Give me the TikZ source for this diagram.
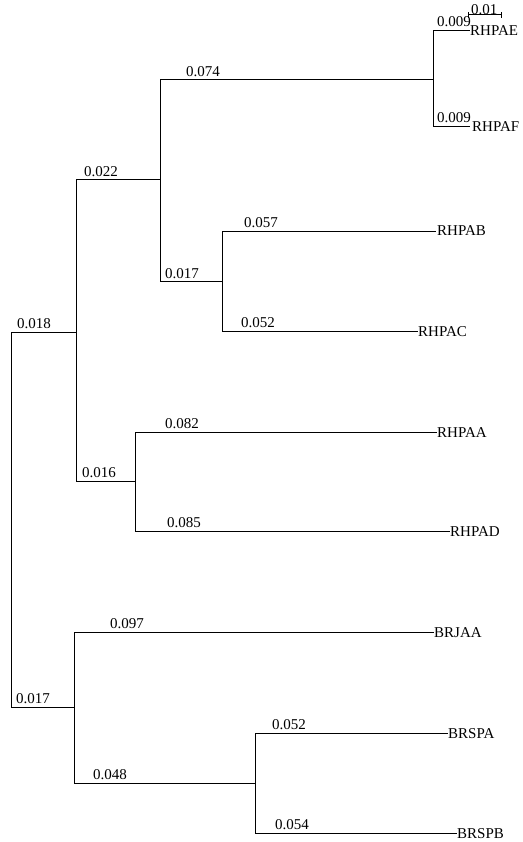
\documentclass[tikz,border=0pt]{standalone}
\usepackage{fontspec}
\setmainfont{Liberation Serif}
\begin{document}
\begin{tikzpicture}[x=1pt,y=-1pt,
  edge/.style={line width=1pt,draw=black},
  blab/.style={anchor=base west,inner sep=0pt,font=\fontsize{15}{17}\selectfont},
  leaf/.style={anchor=base west,inner sep=0pt,font=\fontsize{15}{17}\selectfont}]
\useasboundingbox (0,0) rectangle (522,842);
% internal nodes
\coordinate (n0) at (11,519.5);
\coordinate (nA) at (76,332);
\coordinate (nB) at (160,180);
\coordinate (nC) at (433,80);
\coordinate (nD) at (222,281);
\coordinate (nE) at (135,481);
\coordinate (nF) at (74,707);
\coordinate (nG) at (255,783);
% leaf tips
\coordinate (tE) at (470,31);
\coordinate (tF) at (470,127);
\coordinate (tB) at (436,231);
\coordinate (tC) at (418,331);
\coordinate (tA) at (437,432);
\coordinate (tD) at (450,531);
\coordinate (tJ) at (434,632);
\coordinate (tSA) at (448,733);
\coordinate (tSB) at (457,833);
% edges
\draw[edge] (n0) |- (nA);
\draw[edge] (n0) |- (nF);
\draw[edge] (nA) |- (nB);
\draw[edge] (nA) |- (nE);
\draw[edge] (nB) |- (nC);
\draw[edge] (nB) |- (nD);
\draw[edge] (nC) |- (tE);
\draw[edge] (nC) |- (tF);
\draw[edge] (nD) |- (tB);
\draw[edge] (nD) |- (tC);
\draw[edge] (nE) |- (tA);
\draw[edge] (nE) |- (tD);
\draw[edge] (nF) |- (tJ);
\draw[edge] (nF) |- (nG);
\draw[edge] (nG) |- (tSA);
\draw[edge] (nG) |- (tSB);
% branch length labels
\node[blab] (l1) at (17,328) {0.018};
\node[blab] (l2) at (84,177) {0.022};
\node[blab] (l3) at (186,77) {0.074};
\node[blab] (l4) at (437,27) {0.009};
\node[blab] (l5) at (437,123) {0.009};
\node[blab] (l6) at (165,278) {0.017};
\node[blab] (l7) at (244,227) {0.057};
\node[blab] (l8) at (241,327) {0.052};
\node[blab] (l9) at (82,477) {0.016};
\node[blab] (l10) at (165,428) {0.082};
\node[blab] (l11) at (167,527) {0.085};
\node[blab] (l12) at (16,703) {0.017};
\node[blab] (l13) at (110,628) {0.097};
\node[blab] (l14) at (93,779) {0.048};
\node[blab] (l15) at (272,729) {0.052};
\node[blab] (l16) at (275,829) {0.054};
% leaf labels
\node[leaf] (RHPAE) at (470,36) {RHPAE};
\node[leaf] (RHPAF) at (472,132) {RHPAF};
\node[leaf] (RHPAB) at (437,236) {RHPAB};
\node[leaf] (RHPAC) at (418,336) {RHPAC};
\node[leaf] (RHPAA) at (437,437) {RHPAA};
\node[leaf] (RHPAD) at (450,536) {RHPAD};
\node[leaf] (BRJAA) at (434,637) {BRJAA};
\node[leaf] (BRSPA) at (448,738) {BRSPA};
\node[leaf] (BRSPB) at (457,838) {BRSPB};
% scale bar
\coordinate (s1) at (468,15);
\coordinate (s2) at (501,15);
\draw[edge] (s1) -- (s2);
\draw[edge] ([yshift=-3pt]s1) -- ([yshift=3pt]s1);
\draw[edge] ([yshift=-3pt]s2) -- ([yshift=3pt]s2);
\node[blab] (sc) at (471,15) {0.01};
\end{tikzpicture}
\end{document}
